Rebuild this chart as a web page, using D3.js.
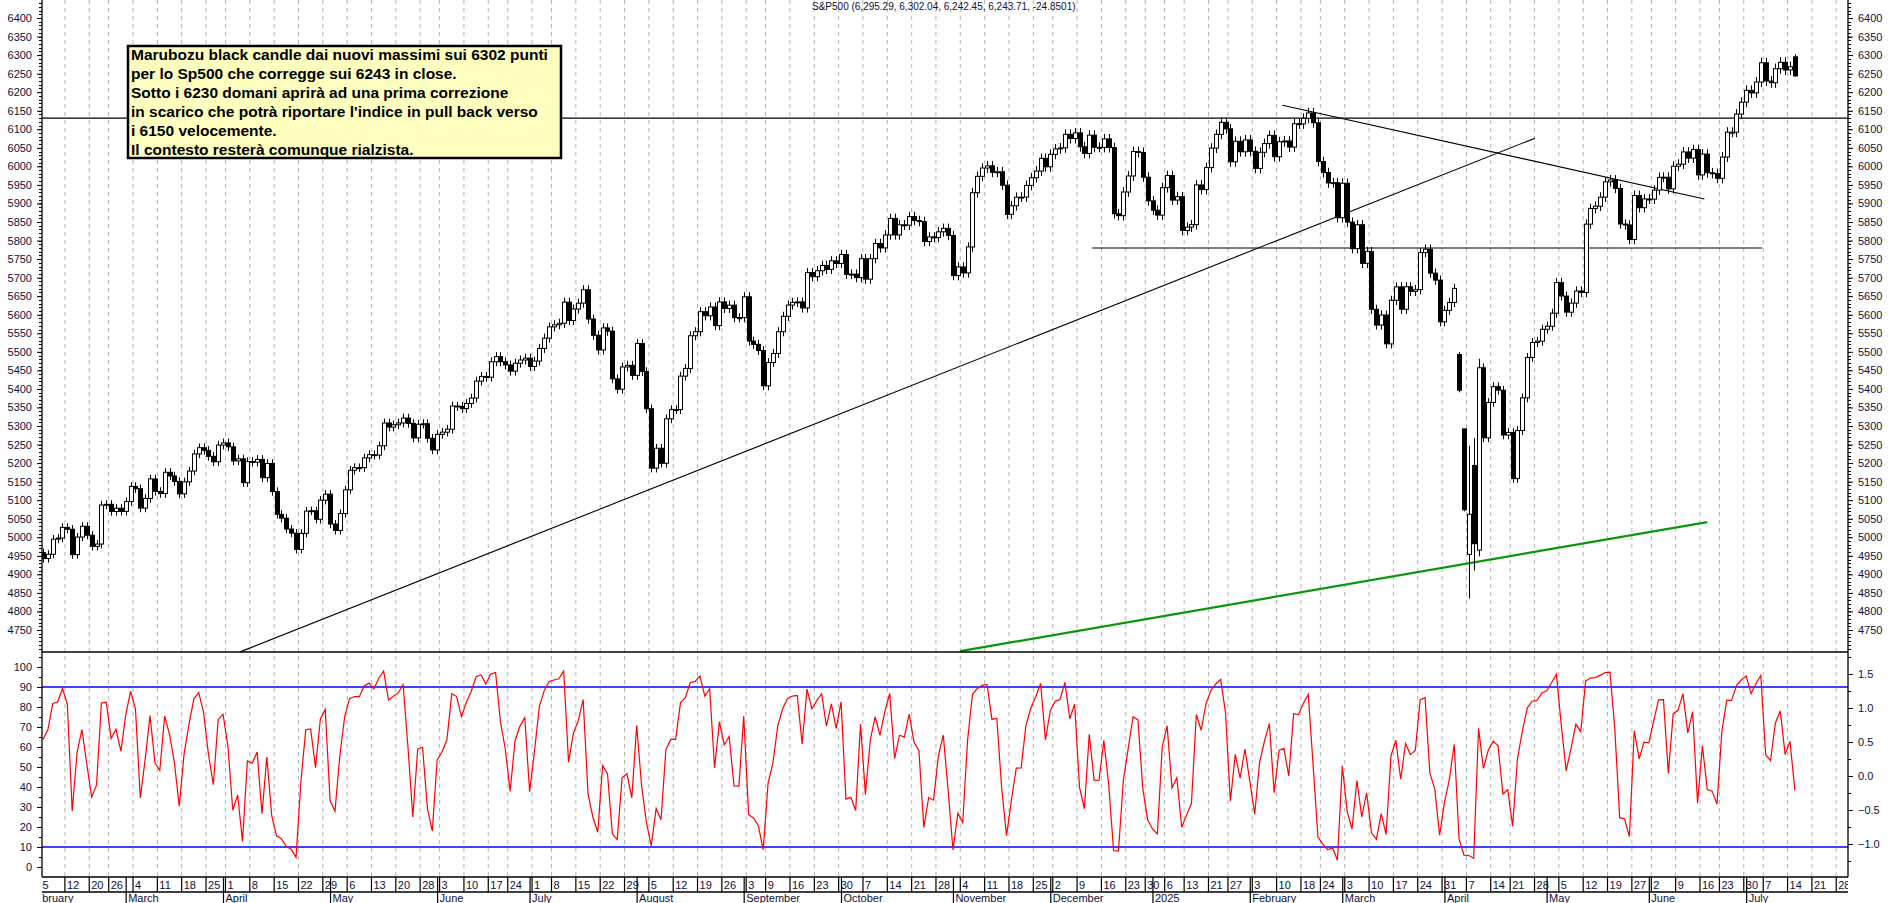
<!DOCTYPE html>
<html><head><meta charset="utf-8">
<script src="https://cdn.jsdelivr.net/npm/d3@7/dist/d3.min.js"></script>
<style>body{margin:0;background:#fff}svg{display:block;font-family:"Liberation Sans",Arial,sans-serif}</style>
</head><body><svg id="c" width="1890" height="903"></svg>
<script>
// ---------- DATA ----------
const startDate = "2024-01-17";           // first (warm-up) session
const displayFrom = "2024-02-05";         // first visible session
const holidays = ["2024-02-19","2024-03-29","2024-05-27","2024-06-19","2024-07-04","2024-09-02","2024-11-28","2024-12-25",
  "2025-01-01","2025-01-09","2025-01-20","2025-02-17","2025-04-18","2025-05-26","2025-06-19","2025-07-04"];
// daily closes, S&P500
const closes = [
4739.21,4780.94,4839.81,4850.43,4864.60,4868.55,4894.16,4890.97,4927.93,4924.97,4845.65,4906.19,4958.61,
// 2024 Feb
4942.81,4954.23,4995.06,4997.91,5026.61,5021.84,4953.17,5000.62,5029.73,5005.57,4975.51,4981.80,5087.03,5088.80,5069.53,5078.18,5069.76,5096.27,
// Mar
5137.08,5130.95,5078.65,5104.76,5157.36,5123.69,5117.94,5175.27,5165.31,5150.48,5117.09,5149.42,5178.51,5224.62,5241.53,5234.18,5218.19,5203.58,5248.49,5254.35,
// Apr
5243.77,5205.81,5211.49,5147.21,5204.34,5202.39,5209.91,5160.64,5199.06,5123.41,5061.82,5051.41,5022.21,5011.12,4967.23,5010.60,5070.55,5071.63,5048.42,5099.96,5116.17,5035.69,
// May
5018.39,5064.20,5127.79,5180.74,5187.70,5187.67,5214.08,5222.68,5221.42,5246.68,5308.15,5297.10,5303.27,5308.13,5321.41,5307.01,5267.84,5304.72,5306.04,5266.95,5235.48,5277.51,
// Jun
5283.40,5291.34,5354.03,5352.96,5346.99,5360.79,5375.32,5421.03,5433.74,5431.60,5473.23,5487.03,5473.17,5464.62,5447.87,5469.30,5477.90,5482.87,5460.48,
// Jul
5475.09,5509.01,5537.02,5567.19,5572.85,5576.98,5633.91,5584.54,5615.35,5631.22,5667.20,5588.27,5544.59,5505.00,5564.41,5555.74,5427.13,5399.22,5459.10,5463.54,5436.44,5522.30,
// Aug
5446.68,5346.56,5186.33,5240.03,5199.50,5319.31,5344.16,5344.39,5434.43,5455.21,5543.22,5554.25,5608.25,5597.12,5620.85,5570.64,5634.61,5616.84,5625.80,5592.18,5591.96,5648.40,
// Sep
5528.93,5520.07,5503.41,5408.42,5471.05,5495.52,5554.13,5595.76,5626.02,5633.09,5634.58,5618.26,5713.64,5702.55,5718.57,5732.93,5722.26,5745.37,5738.17,5762.48,
// Oct
5708.75,5709.54,5699.94,5751.07,5695.94,5751.13,5792.04,5780.05,5815.03,5859.85,5815.26,5842.47,5841.47,5864.67,5853.98,5851.20,5797.42,5809.86,5808.12,5823.52,5832.92,5813.67,5705.45,
// Nov
5728.80,5712.69,5782.76,5929.04,5973.10,5995.54,6001.35,5983.99,5985.38,5949.17,5870.62,5893.62,5916.98,5917.11,5948.71,5969.34,5987.37,6021.63,5998.74,6032.38,
// Dec
6047.15,6049.88,6086.49,6075.11,6090.27,6052.85,6034.91,6084.19,6051.25,6051.09,6074.08,6050.61,5872.16,5867.08,5930.85,5974.07,6040.04,6037.59,5970.84,5906.94,5881.63,
// 2025 Jan
5868.55,5942.47,5975.38,5909.03,5918.25,5827.04,5836.22,5842.91,5949.91,5937.34,5996.66,6049.24,6086.37,6118.71,6101.24,6012.28,6067.70,6039.31,6071.17,6040.53,
// Feb
5994.57,6037.88,6061.48,6083.57,6025.99,6066.44,6068.50,6051.97,6115.07,6114.63,6129.58,6144.15,6117.52,6013.13,5983.25,5955.25,5956.06,5861.57,5954.50,
// Mar
5849.72,5778.15,5842.63,5738.52,5770.20,5614.56,5572.07,5599.30,5521.52,5638.94,5675.12,5614.66,5675.29,5662.89,5667.56,5767.57,5776.65,5712.20,5693.31,5580.94,5611.85,
// Apr
5633.07,5670.97,5396.52,5074.08,5062.25,4982.77,5456.90,5268.05,5363.36,5405.97,5396.63,5275.70,5282.70,5158.20,5287.76,5375.86,5484.77,5525.21,5528.75,5560.83,5569.06,
// May
5604.14,5686.67,5650.38,5606.91,5631.28,5663.94,5659.91,5844.19,5886.55,5892.58,5916.93,5958.38,5963.60,5940.46,5844.61,5842.01,5802.82,5921.54,5888.55,5912.17,5911.69,
// Jun
5935.94,5970.37,5970.81,5939.30,6000.36,6005.88,6038.81,6022.24,6045.26,5976.97,6033.11,5982.72,5980.87,5967.84,6025.17,6092.18,6092.16,6141.02,6173.07,6204.95,
// Jul
6198.01,6227.42,6279.35,6229.98,6225.52,6263.26,6280.46,6259.75,6268.56,6243.76];
// explicit open/high/low for notable sessions
const specialBars = [
  ["2025-04-03",5492.74,5499.53,5390.83],
  ["2025-04-04",5292.14,5292.14,5069.90],
  ["2025-04-07",4953.79,5246.41,4835.04],
  ["2025-04-08",5193.57,5267.47,4910.42],
  ["2025-04-09",4965.28,5481.34,4948.43],
  ["2025-07-15",6295.29,6302.04,6242.45]];
const oscPeriod = 3;
const headerText = "S&P500 (6,295.29, 6,302.04, 6,242.45, 6,243.71, -24.8501)";
const noteLines = ["Marubozu black candle dai nuovi massimi sui 6302 punti","per lo Sp500 che corregge sui 6243 in close.",
 "Sotto i 6230 domani aprirà ad una prima correzione","in scarico che potrà riportare l'indice in pull back verso",
 "i 6150 velocemente.","Il contesto resterà comunque rialzista."];
const priceTicks = d3.range(4750, 6401, 50);
const oscTicksL = d3.range(0, 101, 10);
const oscTicksR = [1.5,1.0,0.5,0.0,-0.5,-1.0];
const resistance = 6130;
// trendlines [idx0, price0, idx1, price1]
const blackLines = [[40.5,4691,306.6,6076],[254.7,6165,341.4,5912],[215.6,5780,353.3,5780]];
const greenLine = [188.5,4693,342,5041];
const monthNames = ["January","February","March","April","May","June","July","August","September","October","November","December"];

// ---------- BUILD SESSIONS ----------
const fmt = d3.utcFormat("%Y-%m-%d");
function sessions(from, to){ const out=[]; let d=new Date(from+"T00:00:00Z"); const end=new Date(to+"T00:00:00Z");
  while(d<=end){ const w=d.getUTCDay(); const s=fmt(d); if(w>0&&w<6&&!holidays.includes(s)) out.push(new Date(d)); d=new Date(d.getTime()+864e5);} return out;}
const allDates = sessions(startDate,"2025-07-31");
const bars=[]; const spec=new Map(specialBars.map(b=>[b[0],b]));
closes.forEach((c,i)=>{const s=fmt(allDates[i]); const o=i?closes[i-1]:c; let h=Math.max(o,c)+c*0.0022, l=Math.min(o,c)-c*0.0022, op=o;
  if(spec.has(s)){const b=spec.get(s); op=b[1]; h=b[2]; l=b[3];}
  bars.push({date:allDates[i],s,o:op,h,l,c});});
// Wilder RSI oscillator
let ag=0, al=0;
bars.forEach((b,i)=>{ if(i===0){b.k=50;return;} const ch=b.c-bars[i-1].c; const gn=Math.max(ch,0), ls=Math.max(-ch,0);
  if(i<=oscPeriod){ag+=gn/oscPeriod; al+=ls/oscPeriod;} else {ag=(ag*(oscPeriod-1)+gn)/oscPeriod; al=(al*(oscPeriod-1)+ls)/oscPeriod;}
  b.k = al===0?100:100-100/(1+ag/al);});
const off = allDates.findIndex(d=>fmt(d)===displayFrom);
const vis = bars.slice(off).map((b,i)=>({...b,i}));
const axisDates = allDates.slice(off).map((d,i)=>({d,i}));

// ---------- SCALES ----------
const L=42, R=1848, mainBot=652, oscBot=877;
const x = d3.scaleLinear().domain([0,359]).range([43,1790]);
const y = d3.scaleLinear().domain([4750,6400]).range([630,18]);
const yo = d3.scaleLinear().domain([0,100]).range([867,667]);
const yr = d3.scaleLinear().domain([-1,1.5]).range([844,674]);
const svg = d3.select("#c");
const half = 2.43;

const weekStarts = axisDates.filter((a,j)=> j===0 || (a.d-axisDates[j-1].d)>1.5*864e5 && a.d.getUTCDay()<=axisDates[j-1].d.getUTCDay() || (a.d-axisDates[j-1].d)>3.5*864e5);
const monthStarts = axisDates.filter((a,j)=> j>0 && a.d.getUTCMonth()!==axisDates[j-1].d.getUTCMonth());

svg.append("defs").append("clipPath").attr("id","pc").append("rect").attr("x",L).attr("y",0).attr("width",R-L).attr("height",903);
const g = svg.append("g").attr("clip-path","url(#pc)");

g.selectAll(".grid").data(weekStarts.slice(1)).join("line").attr("x1",d=>x(d.i)-half).attr("x2",d=>x(d.i)-half)
 .attr("y1",0).attr("y2",oscBot).attr("stroke","#b4b4b4").attr("stroke-dasharray","4,4");

g.append("line").attr("x1",L).attr("x2",R).attr("y1",y(resistance)).attr("y2",y(resistance)).attr("stroke","#000").attr("stroke-width",1.2);
g.selectAll(".tl").data(blackLines).join("line").attr("x1",d=>x(d[0])).attr("y1",d=>y(d[1])).attr("x2",d=>x(d[2])).attr("y2",d=>y(d[3]))
 .attr("stroke","#000").attr("stroke-width",1.1);
g.append("line").attr("x1",x(greenLine[0])).attr("y1",y(greenLine[1])).attr("x2",x(greenLine[2])).attr("y2",y(greenLine[3]))
 .attr("stroke","#0a960a").attr("stroke-width",2.2);

const cg = g.append("g");
cg.selectAll(".w").data(vis).join("line").attr("x1",d=>Math.round(x(d.i))+0.5).attr("x2",d=>Math.round(x(d.i))+0.5)
 .attr("y1",d=>y(d.h)).attr("y2",d=>y(d.l)).attr("stroke","#000");
cg.selectAll(".b").data(vis).join("rect").attr("x",d=>Math.round(x(d.i))-1.5).attr("width",4)
 .attr("y",d=>y(Math.max(d.o,d.c))).attr("height",d=>Math.max(1,Math.abs(y(d.o)-y(d.c))))
 .attr("fill",d=>d.c>=d.o?"#fff":"#000").attr("stroke","#000").attr("stroke-width",1);

g.selectAll(".hl").data([90,10]).join("line").attr("x1",L).attr("x2",R).attr("y1",d=>yo(d)).attr("y2",d=>yo(d)).attr("stroke","#0000ff").attr("stroke-width",1.3);
g.append("path").datum(vis).attr("d",d3.line().x(d=>x(d.i)).y(d=>yo(d.k))).attr("fill","none").attr("stroke","#ff0000").attr("stroke-width",1.2);

svg.append("line").attr("x1",L).attr("x2",R).attr("y1",mainBot).attr("y2",mainBot).attr("stroke","#000").attr("stroke-width",1.5);
svg.append("line").attr("x1",L).attr("x2",R).attr("y1",oscBot).attr("y2",oscBot).attr("stroke","#000").attr("stroke-width",1.5);
svg.append("line").attr("x1",L).attr("x2",R).attr("y1",892).attr("y2",892).attr("stroke","#000").attr("stroke-width",1.5);
[L,R].forEach(v=>svg.append("line").attr("x1",v).attr("x2",v).attr("y1",0).attr("y2",oscBot).attr("stroke","#000").attr("stroke-width",1.3));

const lab = "#10103a";
function axisSide(scale, ticks, minor, fmtf, side){
  const xa = side==="l"? L : R;
  const agp = svg.append("g").attr("transform",`translate(${xa},0)`);
  const ax = (side==="l"? d3.axisLeft(scale) : d3.axisRight(scale)).tickValues(ticks).tickFormat(fmtf).tickSize(5).tickPadding(5);
  agp.call(ax); agp.select(".domain").remove();
  agp.selectAll("text").attr("font-size",11).attr("fill",lab).attr("font-family","Liberation Sans, Arial");
  agp.selectAll("line").attr("stroke","#000");
  const mg = svg.append("g").attr("transform",`translate(${xa},0)`);
  mg.selectAll("line").data(minor).join("line").attr("x1",0).attr("x2",side==="l"?-3:3).attr("y1",d=>Math.round(scale(d))+0.5).attr("y2",d=>Math.round(scale(d))+0.5).attr("stroke","#000");
}
const pMinor = d3.range(4700,6470,10).filter(v=>y(v)>0&&y(v)<mainBot);
axisSide(y,priceTicks,pMinor,d3.format("d"),"l");
axisSide(y,priceTicks,pMinor,d3.format("d"),"r");
axisSide(yo,oscTicksL,d3.range(-5,106,5).filter(v=>yo(v)>mainBot&&yo(v)<oscBot),d3.format("d"),"l");
axisSide(yr,oscTicksR,d3.range(-1.5,1.76,0.25).filter(v=>yr(v)>mainBot&&yr(v)<oscBot),d3.format(".1f"),"r");

const xg = svg.append("g").attr("clip-path","url(#pc)");
xg.selectAll(".wk").data(weekStarts).join("line").attr("x1",d=>x(d.i)-half).attr("x2",d=>x(d.i)-half).attr("y1",oscBot).attr("y2",892).attr("stroke","#000").attr("stroke-width",1.2);
xg.selectAll(".wt").data(weekStarts).join("text").attr("x",d=>x(d.i)-half+2).attr("y",889).text(d=>d.d.getUTCDate())
 .attr("font-size",11).attr("fill",lab);
xg.selectAll(".mo").data(monthStarts).join("line").attr("x1",d=>x(d.i)-half-2).attr("x2",d=>x(d.i)-half-2).attr("y1",oscBot).attr("y2",903).attr("stroke","#000").attr("stroke-width",1.2);
const monthLabels = [{i:-2.3,d:new Date(Date.UTC(2024,1,1))}].concat(monthStarts);
xg.selectAll(".mt").data(monthLabels).join("text").attr("x",d=>x(d.i)-half).attr("y",902)
 .text(d=>d.d.getUTCMonth()===0?String(d.d.getUTCFullYear()):monthNames[d.d.getUTCMonth()]).attr("font-size",11).attr("fill",lab);

svg.append("text").attr("x",812).attr("y",10).text(headerText).attr("font-size",10).attr("fill","#10103a");

const nb = svg.append("g");
nb.append("rect").attr("x",128).attr("y",46).attr("width",433).attr("height",112).attr("fill","#ffffc0").attr("stroke","#000").attr("stroke-width",2.5);
nb.selectAll("text").data(noteLines).join("text").attr("x",131).attr("y",(d,i)=>60+i*19).text(d=>d)
 .attr("font-size",15.5).attr("font-weight","bold").attr("fill","#000");
</script></body></html>
